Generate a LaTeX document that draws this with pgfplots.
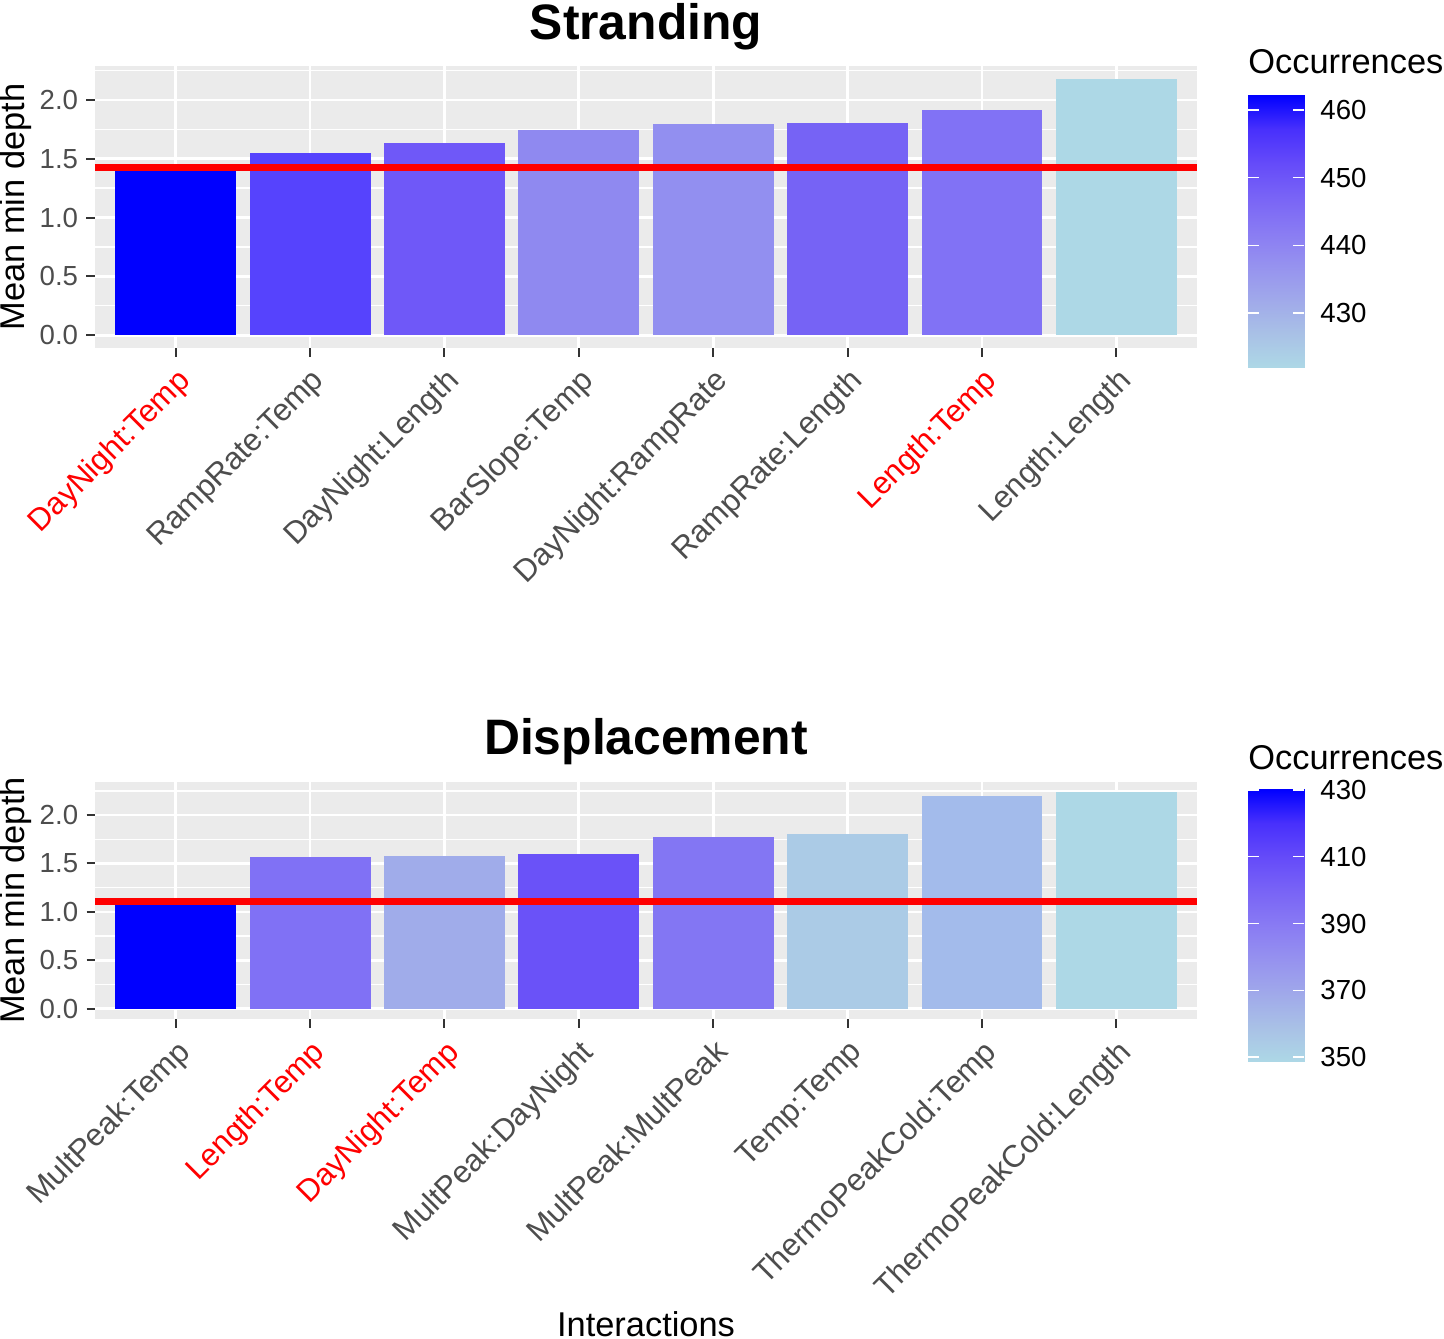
\documentclass[border=0pt]{standalone}
\usepackage{pgfplots}
\pgfplotsset{compat=1.18}
\usepackage{fontspec}
\setmainfont{Liberation Sans}
\definecolor{panelbg}{HTML}{EBEBEB}
\definecolor{grey30}{HTML}{4D4D4D}
\definecolor{grey20}{HTML}{333333}
% top panel bar colours
\definecolor{sA}{RGB}{0,0,255}
\definecolor{sB}{RGB}{86,67,253}
\definecolor{sC}{RGB}{111,88,248}
\definecolor{sD}{RGB}{143,137,240}
\definecolor{sE}{RGB}{146,143,240}
\definecolor{sF}{RGB}{118,99,245}
\definecolor{sG}{RGB}{129,114,245}
\definecolor{sH}{RGB}{173,216,230}
% bottom panel bar colours
\definecolor{dA}{RGB}{0,0,255}
\definecolor{dB}{RGB}{128,113,245}
\definecolor{dC}{RGB}{160,172,234}
\definecolor{dD}{RGB}{106,82,248}
\definecolor{dE}{RGB}{131,118,243}
\definecolor{dF}{RGB}{171,203,230}
\definecolor{dG}{RGB}{163,187,235}
\definecolor{dH}{RGB}{173,216,230}
\newcommand{\tickfont}{\fontsize{13.8pt}{16pt}\selectfont}
\newcommand{\xtickfont}{\fontsize{15.6pt}{18pt}\selectfont}
\newcommand{\labfont}{\fontsize{17.2pt}{20pt}\selectfont}
\newcommand{\titfont}{\fontsize{24.9pt}{29pt}\selectfont\bfseries}
\pgfplotsset{
  colormap={occ}{rgb255=(173,216,230) rgb255=(169,193,230) rgb255=(160,169,234)
    rgb255=(150,146,239) rgb255=(137,123,243) rgb255=(121,100,246)
    rgb255=(101,75,249) rgb255=(72,48,252) rgb255=(0,0,255)},
  panel/.style={
    scale only axis, width=551pt,
    anchor=south west,
    xmin=0.4, xmax=8.6,
    axis background/.style={fill=panelbg},
    axis line style={draw=none},
    xtick={1,2,3,4,5,6,7,8},
    ytick={0,0.5,1,1.5,2},
    yticklabels={0.0,0.5,1.0,1.5,2.0},
    minor ytick={0.25,0.75,1.25,1.75,2.25},
    grid=both,
    major grid style={white, line width=1.35pt},
    minor grid style={white, line width=0.7pt},
    tick align=outside, tick pos=left,
    major tick length=4.25pt, minor tick length=0pt,
    major tick style={grey20, line width=1pt},
    ticklabel style={font=\tickfont, text=grey30},
    yticklabel style={anchor=east, inner sep=0pt, xshift=-4pt},
    xticklabel style={font=\xtickfont, anchor=north east, inner sep=0pt, yshift=-4.75pt, rotate=45},
  },
  cbar/.style={
    scale only axis, anchor=north west,
    width=28pt, height=136.35pt,
    xmin=0, xmax=1, xtick=\empty,
    colormap name=occ,
    axis on top,
    axis line style={draw=none},
    ytick pos=both, yticklabel pos=right,
    tick align=inside,
    major tick length=5.5pt,
    major tick style={white, line width=0.7pt},
    yticklabel style={font=\tickfont, text=black, anchor=west, inner sep=0pt, xshift=8pt},
  },
  bars/.style={ybar, bar width=0.9, bar shift=0pt, draw=none, point meta=explicit},
}
\begin{document}
\begin{tikzpicture}
\useasboundingbox (0,0) rectangle (722pt,-669pt);
% ---------------- Stranding ----------------
\begin{axis}[panel, at={(47.5pt,-174pt)}, height=141pt,
  ymin=-0.109, ymax=2.288,
  xticklabels={\textcolor{red}{DayNight:Temp}, RampRate:Temp, DayNight:Length,
    BarSlope:Temp, DayNight:RampRate, RampRate:Length, \textcolor{red}{Length:Temp}, Length:Length},
]
\addplot[bars, fill=sA] coordinates {(1,1.41) [462]};
\addplot[bars, fill=sB] coordinates {(2,1.546) [454]};
\addplot[bars, fill=sC] coordinates {(3,1.634) [450]};
\addplot[bars, fill=sD] coordinates {(4,1.745) [439]};
\addplot[bars, fill=sE] coordinates {(5,1.796) [438]};
\addplot[bars, fill=sF] coordinates {(6,1.804) [447]};
\addplot[bars, fill=sG] coordinates {(7,1.915) [444]};
\addplot[bars, fill=sH] coordinates {(8,2.179) [422]};
\addplot[red, line width=3.6pt, mark=none] coordinates {(0.4,1.424) (8.6,1.424)};
\end{axis}
% colour bar, Stranding
\begin{axis}[cbar, at={(624pt,-47.5pt)},
  ymin=421.9, ymax=462.2,
  ytick={430,440,450,460}, yticklabels={430,440,450,460}]
\addplot[surf, shader=interp, point meta=y, mesh/cols=2] coordinates {(0,421.9) (1,421.9) (0,462.2) (1,462.2)};
\end{axis}
% ---------------- Displacement ----------------
\begin{axis}[panel, at={(47.5pt,-509.65pt)}, height=118.8pt,
  ymin=-0.11, ymax=2.345,
  xticklabels={MultPeak:Temp, \textcolor{red}{Length:Temp}, \textcolor{red}{DayNight:Temp},
    MultPeak:DayNight, MultPeak:MultPeak, Temp:Temp, ThermoPeakCold:Temp, ThermoPeakCold:Length},
]
\addplot[bars, fill=dA] coordinates {(1,1.10) [430]};
\addplot[bars, fill=dB] coordinates {(2,1.564) [394]};
\addplot[bars, fill=dC] coordinates {(3,1.577) [369]};
\addplot[bars, fill=dD] coordinates {(4,1.598) [408]};
\addplot[bars, fill=dE] coordinates {(5,1.773) [393]};
\addplot[bars, fill=dF] coordinates {(6,1.804) [356]};
\addplot[bars, fill=dG] coordinates {(7,2.196) [364]};
\addplot[bars, fill=dH] coordinates {(8,2.235) [349]};
\addplot[red, line width=3.6pt, mark=none] coordinates {(0.4,1.106) (8.6,1.106)};
\end{axis}
% colour bar, Displacement
\begin{axis}[cbar, at={(624pt,-394.5pt)},
  ymin=348.6, ymax=430.3,
  ytick={350,370,390,410,430}, yticklabels={350,370,390,410,430}]
\addplot[surf, shader=interp, point meta=y, mesh/cols=2] coordinates {(0,348.6) (1,348.6) (0,430.3) (1,430.3)};
\end{axis}
% ---------------- texts ----------------
\node[anchor=base, inner sep=0pt] at (323pt,-20pt) {\titfont Stranding};
\node[anchor=base, inner sep=0pt] at (323pt,-377.3pt) {\titfont Displacement};
\node[anchor=base, inner sep=0pt, rotate=90] at (12.5pt,-103.5pt) {\labfont Mean min depth};
\node[anchor=base, inner sep=0pt, rotate=90] at (12.5pt,-450.25pt) {\labfont Mean min depth};
\node[anchor=base, inner sep=0pt] at (323pt,-668.2pt) {\labfont Interactions};
\node[anchor=base west, inner sep=0pt] at (624pt,-37pt) {\labfont Occurrences};
\node[anchor=base west, inner sep=0pt] at (624pt,-384.6pt) {\labfont Occurrences};
\end{tikzpicture}
\end{document}
